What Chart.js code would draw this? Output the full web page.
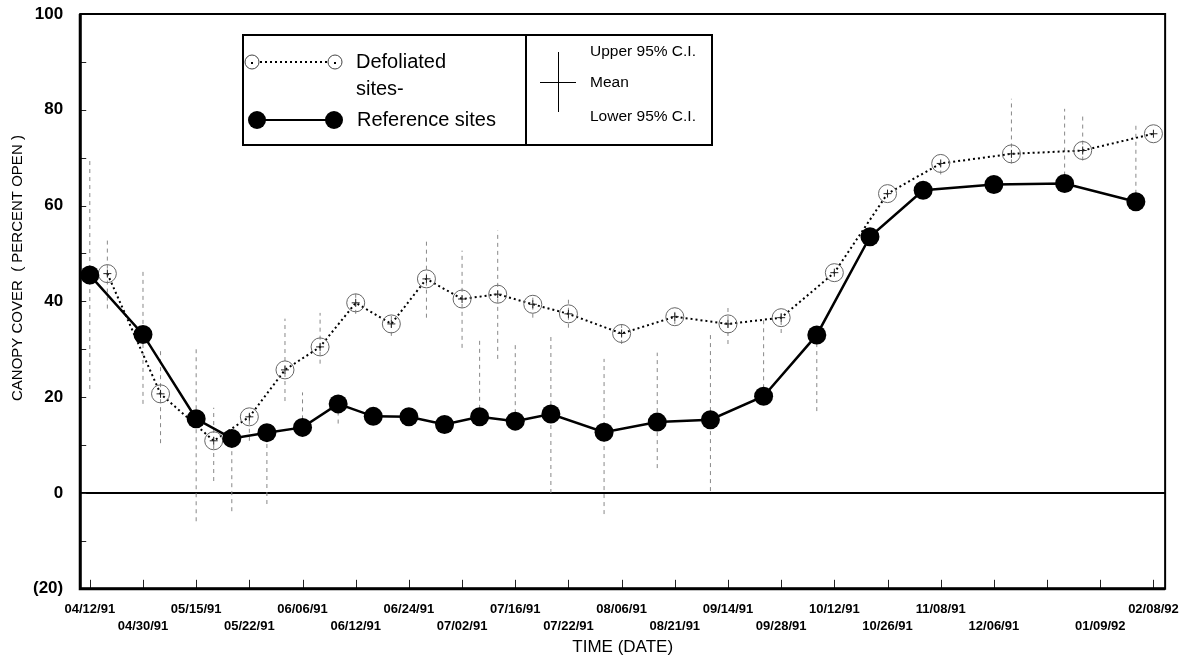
<!DOCTYPE html>
<html>
<head>
<meta charset="utf-8">
<script src="https://cdn.jsdelivr.net/npm/chart.js@4.4.1/dist/chart.umd.min.js"></script>
<style>
html, body { margin: 0; padding: 0; background: #fff; }
#wrap { position: relative; width: 1191px; height: 658px; }
</style>
</head>
<body>
<div id="wrap"><canvas id="canopyChart"></canvas></div>
<script>
// ==================== CANOPY COVER CHART ====================
// x values are in tick slots: tick i carries dateLabels[i]
var dateLabels = ['04/12/91', '04/30/91', '05/15/91', '05/22/91', '06/06/91', '06/12/91',
    '06/24/91', '07/02/91', '07/16/91', '07/22/91', '08/06/91', '08/21/91', '09/14/91',
    '09/28/91', '10/12/91', '10/26/91', '11/08/91', '12/06/91', '', '01/09/92', '02/08/92'];

var yTickValues = [-20, 0, 20, 40, 60, 80, 100];
var yTickText = ['(20)', '0', '20', '40', '60', '80', '100'];

// Reference sites
var refX = [0, 1, 2, 2.67, 3.33, 4, 4.67, 5.33, 6, 6.67, 7.33, 8, 8.67, 9.67, 10.67,
    11.67, 12.67, 13.67, 14.67, 15.67, 17, 18.33, 19.67];
var refMean = [45.5, 33.1, 15.5, 11.4, 12.6, 13.7, 18.6, 16.0, 15.9, 14.3, 15.9, 15.0,
    16.5, 12.7, 14.8, 15.3, 20.2, 33.0, 53.5, 63.2, 64.4, 64.6, 60.8];
var refLow = [21.7, 18.6, -5.9, -3.8, -2.3, 13.7, 14.5, null, null, null, 15.9, 15.0,
    0.0, -4.4, 5.2, 0.4, 20.2, 17.1, null, null, null, 64.6, 60.8];
var refHigh = [69.4, 46.4, 30.0, 11.4, 12.6, 21.0, 18.6, null, null, null, 32.2, 31.4,
    33.4, 28.0, 29.3, 33.2, 36.6, 33.0, null, null, null, 80.2, 77.1];

// Defoliated sites
var defX = [0.33, 1.33, 2.33, 3, 3.67, 4.33, 5, 5.67, 6.33, 7, 7.67, 8.33, 9, 10, 11,
    12, 13, 14, 15, 16, 17.33, 18.67, 20];
var defMean = [45.8, 20.7, 10.9, 15.9, 25.7, 30.5, 39.7, 35.3, 44.7, 40.5, 41.5, 39.4,
    37.4, 33.3, 36.8, 35.3, 36.6, 46.0, 62.5, 68.8, 70.8, 71.5, 75.0];
var defLow = [38.5, 10.4, 2.5, 10.9, 19.2, 27.0, 37.4, 32.8, 36.6, 30.3, 28.0, 36.6,
    34.5, 31.1, 35.3, 31.1, 33.4, null, null, 66.5, 68.8, 69.4, null];
var defHigh = [52.7, 30.0, 17.8, 16.5, 36.4, 37.6, 41.8, 37.0, 52.7, 50.6, 54.8, 41.6,
    40.8, 35.5, 38.7, 39.1, 38.0, null, null, 68.8, 82.3, 78.8, null];

var FONT = "'Liberation Sans', Arial, Helvetica, sans-serif";

function toPoints(xs, ys) {
    return xs.map(function(x, i) { return { x: x, y: ys[i] }; });
}

// vertical C.I. segments, broken apart by null points
function errorSegments(xs, lows, highs) {
    var pts = [];
    xs.forEach(function(x, i) {
        if (lows[i] == null || highs[i] == null) return;
        pts.push({ x: x, y: lows[i] }, { x: x, y: highs[i] }, { x: x, y: null });
    });
    return pts;
}

// frame, inward tick marks, y title and the boxed legend
var decorPlugin = {
    id: 'decor',
    afterDraw: function(chart) {
        var c = chart.ctx, a = chart.chartArea;
        var xs = chart.scales.x, ys = chart.scales.y;
        c.save();

        // inward ticks
        c.strokeStyle = '#222';
        c.lineWidth = 1;
        c.beginPath();
        dateLabels.forEach(function(_, i) {
            var px = Math.round(xs.getPixelForValue(i)) + 0.5;
            c.moveTo(px, a.bottom);
            c.lineTo(px, a.bottom - 9);
        });
        for (var v = -20; v <= 100; v += 10) {
            var py = Math.round(ys.getPixelForValue(v)) + 0.5;
            c.moveTo(a.left, py);
            c.lineTo(a.left + 6, py);
        }
        c.stroke();

        // frame
        c.strokeStyle = '#000';
        c.lineWidth = 2;
        c.strokeRect(a.left, a.top, a.right - a.left, a.bottom - a.top);
        c.lineWidth = 3;
        c.beginPath();
        c.moveTo(a.left, a.top);
        c.lineTo(a.left, a.bottom);
        c.lineTo(a.right, a.bottom);
        c.stroke();

        // y title
        c.fillStyle = '#000';
        c.font = '15px ' + FONT;
        c.textAlign = 'center';
        c.textBaseline = 'middle';
        c.translate(18, a.top + (a.bottom - a.top) * 0.442);
        c.rotate(-Math.PI / 2);
        c.fillText('CANOPY COVER  ( PERCENT OPEN )', 0, 0);
        c.setTransform(1, 0, 0, 1, 0, 0);

        // legend box
        c.fillStyle = '#fff';
        c.fillRect(243, 35, 469, 110);
        c.strokeStyle = '#000';
        c.lineWidth = 2;
        c.strokeRect(243, 35, 469, 110);
        c.beginPath();
        c.moveTo(526, 35);
        c.lineTo(526, 145);
        c.stroke();

        // defoliated sample
        c.setLineDash([2, 3]);
        c.beginPath();
        c.moveTo(260, 62);
        c.lineTo(328, 62);
        c.stroke();
        c.setLineDash([]);
        c.strokeStyle = '#444';
        c.lineWidth = 1;
        [252, 335].forEach(function(cx) {
            c.beginPath();
            c.arc(cx, 62, 7, 0, Math.PI * 2);
            c.stroke();
            c.fillStyle = '#000';
            c.fillRect(cx - 1, 62, 2, 2);
        });

        // reference sample
        c.strokeStyle = '#000';
        c.lineWidth = 2;
        c.beginPath();
        c.moveTo(257, 120);
        c.lineTo(334, 120);
        c.stroke();
        c.fillStyle = '#000';
        [257, 334].forEach(function(cx) {
            c.beginPath();
            c.arc(cx, 120, 9, 0, Math.PI * 2);
            c.fill();
        });

        // C.I. sample
        c.lineWidth = 1;
        c.beginPath();
        c.moveTo(558.5, 52);
        c.lineTo(558.5, 112);
        c.moveTo(540, 82.5);
        c.lineTo(576, 82.5);
        c.stroke();

        c.textAlign = 'left';
        c.textBaseline = 'middle';
        c.font = '20px ' + FONT;
        c.fillText('Defoliated', 356, 62);
        c.fillText('sites-', 356, 89);
        c.fillText('Reference sites', 357, 120);
        c.font = '15.5px ' + FONT;
        c.fillText('Upper 95% C.I.', 590, 52);
        c.fillText('Mean', 590, 83);
        c.fillText('Lower 95% C.I.', 590, 117);

        c.restore();
    }
};

var chart = new Chart(document.getElementById('canopyChart'), {
    type: 'line',
    data: {
        datasets: [
            {
                label: 'Reference sites',
                data: toPoints(refX, refMean),
                borderColor: '#000',
                borderWidth: 2.5,
                pointRadius: 9.5,
                pointBackgroundColor: '#000',
                pointBorderColor: '#000',
                pointBorderWidth: 0,
                order: 1
            },
            {
                label: 'Defoliated mean',
                data: toPoints(defX, defMean),
                showLine: false,
                pointStyle: 'cross',
                pointRadius: 4,
                pointBorderColor: '#222',
                pointBorderWidth: 1,
                order: 2
            },
            {
                label: 'Defoliated sites-',
                data: toPoints(defX, defMean),
                borderColor: '#000',
                borderWidth: 2,
                borderDash: [2, 3],
                pointRadius: 9,
                pointBackgroundColor: 'rgba(255,255,255,0)',
                pointBorderColor: '#666',
                pointBorderWidth: 1,
                order: 3
            },
            {
                label: 'Reference 95% C.I.',
                data: errorSegments(refX, refLow, refHigh),
                borderColor: '#888',
                borderWidth: 1,
                borderDash: [4, 4],
                pointRadius: 0,
                spanGaps: false,
                order: 4
            },
            {
                label: 'Defoliated 95% C.I.',
                data: errorSegments(defX, defLow, defHigh),
                borderColor: '#888',
                borderWidth: 1,
                borderDash: [4, 4],
                pointRadius: 0,
                spanGaps: false,
                order: 4
            }
        ]
    },
    options: {
        responsive: true,
        maintainAspectRatio: false,
        animation: false,
        layout: { padding: { left: 16, right: 25, top: 14, bottom: 0 } },
        plugins: {
            legend: { display: false },
            tooltip: { enabled: false }
        },
        scales: {
            x: {
                type: 'linear',
                min: -0.18,
                max: 20.22,
                afterBuildTicks: function(scale) {
                    scale.ticks = dateLabels.map(function(_, i) { return { value: i }; });
                },
                grid: { display: false, drawTicks: false },
                border: { display: false },
                ticks: {
                    autoSkip: false,
                    maxRotation: 0,
                    padding: 12,
                    color: '#000',
                    font: { family: FONT, size: 13, weight: 'bold', lineHeight: 1.3 },
                    callback: function(value) {
                        var i = Math.round(value);
                        var lab = dateLabels[i] || '';
                        return i % 2 === 0 ? [lab, ''] : ['', lab];
                    }
                },
                title: {
                    display: true,
                    text: 'TIME (DATE)',
                    color: '#000',
                    font: { family: FONT, size: 17 },
                    padding: { top: -9, bottom: 0 }
                }
            },
            y: {
                min: -20,
                max: 100,
                afterFit: function(scale) {
                    // the label overflow is already covered by the layout padding
                    scale.paddingTop = 0;
                    scale.paddingBottom = 0;
                },
                grid: {
                    drawTicks: false,
                    lineWidth: 2,
                    color: function(ctx) { return ctx.tick && ctx.tick.value === 0 ? '#000' : 'rgba(0,0,0,0)'; }
                },
                border: { display: false },
                ticks: {
                    stepSize: 10,
                    padding: 17,
                    color: '#000',
                    font: { family: FONT, size: 17, weight: 'bold' },
                    callback: function(value) {
                        var k = yTickValues.indexOf(value);
                        return k >= 0 ? yTickText[k] : '';
                    }
                }
            }
        }
    },
    plugins: [decorPlugin]
});
</script>
</body>
</html>
